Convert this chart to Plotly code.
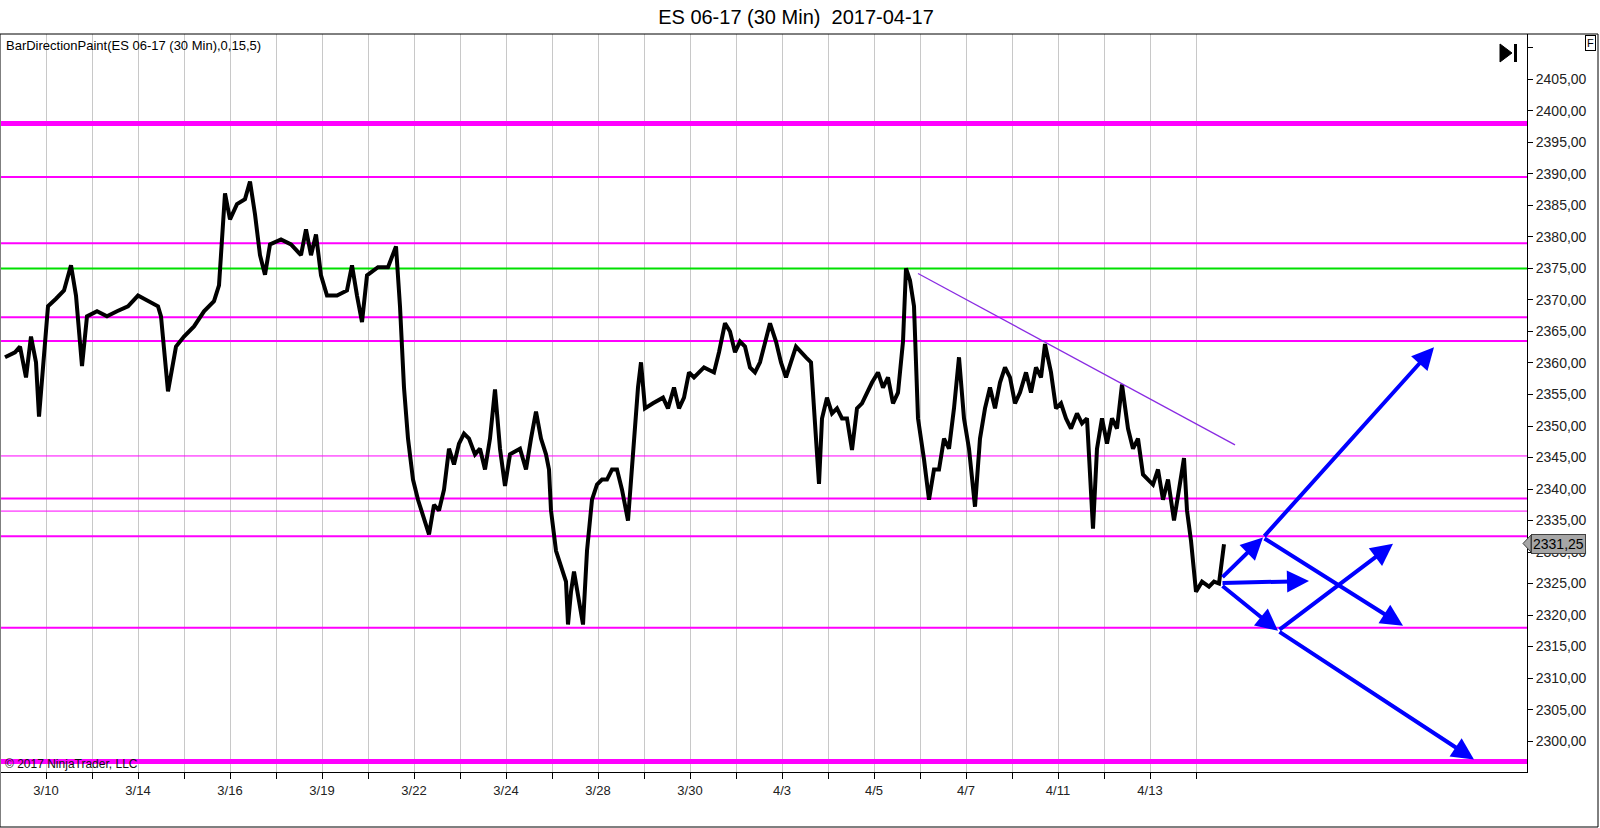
import plotly.graph_objects as go

# ---------------- data ----------------
# bar index (30-min bars, 46 bars per session; bar 0 = 3/10 session mark)
bars = [-41, -31, -26, -20, -15, -10, -7, -3, 2, 10, 18, 25, 30, 36, 41, 51, 61, 71, 82, 92,
        102, 112, 115, 122, 130, 138, 148, 158, 168, 173, 179, 184, 191, 199, 204, 209, 214, 219, 224, 235,
        245, 255, 260, 265, 270, 275, 281, 291, 301, 306, 311, 316, 321, 332, 342, 350, 354, 358, 362, 367,
        372, 378, 383, 388, 393, 398, 403, 408, 413, 418, 423, 429, 434, 439, 444, 449, 454, 459, 464, 474,
        480, 485, 490, 495, 500, 503, 505, 510, 515, 520, 522, 525, 528, 533, 537, 541, 546, 551, 556, 561, 566,
        571, 576, 582, 587, 592, 595, 599, 607, 617, 622, 628, 633, 638, 643, 648, 658, 668, 673, 679, 684,
        689, 694, 699, 704, 709, 714, 719, 724, 730, 735, 740, 745, 750, 760, 765, 770, 773, 776, 781, 786,
        791, 796, 801, 806, 811, 816, 821, 826, 832, 837, 842, 847, 852, 857, 860, 864, 868, 872, 878, 883,
        888, 893, 898, 903, 908, 913, 918, 923, 929, 934, 939, 944, 949, 954, 959, 964, 969, 974, 980, 985,
        990, 995, 999, 1005, 1010, 1015, 1020, 1025, 1031, 1036, 1041, 1044, 1047, 1051, 1056, 1061, 1066, 1071, 1076, 1082,
        1087, 1092, 1097, 1102, 1107, 1112, 1117, 1122, 1128, 1133, 1138, 1141, 1145, 1150, 1156, 1163, 1168, 1173, 1176, 1178]
prices = [2360.9, 2361.7, 2362.6, 2357.7, 2364.2, 2360.1, 2351.5, 2359.3, 2369.0, 2370.2, 2371.5, 2375.5, 2370.7, 2359.5, 2367.4, 2368.2, 2367.4, 2368.2, 2369.0, 2370.7,
          2369.8, 2369.0, 2367.4, 2355.5, 2362.6, 2364.2, 2365.8, 2368.2, 2369.8, 2372.3, 2386.9, 2382.8, 2385.2, 2386.0, 2388.8, 2383.6, 2377.1, 2374.0, 2378.8, 2379.6,
          2378.8, 2377.1, 2381.2, 2377.1, 2380.4, 2373.9, 2370.7, 2370.7, 2371.5, 2375.5, 2370.7, 2366.5, 2373.9, 2375.2, 2375.2, 2378.5, 2369.0, 2356.1, 2348.0, 2341.5,
          2338.3, 2335.0, 2332.8, 2337.5, 2336.6, 2339.9, 2346.4, 2343.9, 2347.2, 2348.8, 2348.0, 2345.5, 2346.4, 2343.1, 2348.0, 2355.8, 2346.4, 2340.5, 2345.5, 2346.4,
          2343.1, 2348.0, 2352.3, 2348.0, 2345.5, 2343.1, 2336.6, 2330.2, 2327.7, 2325.3, 2318.5, 2323.7, 2326.9, 2322.1, 2318.5, 2330.2, 2338.3, 2340.7, 2341.5, 2341.5, 2343.1,
          2343.1, 2339.9, 2335.0, 2346.4, 2356.1, 2360.1, 2352.8, 2353.6, 2354.5, 2352.8, 2356.1, 2352.8, 2354.5, 2358.5, 2357.7, 2359.3, 2358.5, 2361.7, 2366.3, 2365.0,
          2361.7, 2363.4, 2362.6, 2359.3, 2358.5, 2360.1, 2363.4, 2366.3, 2363.4, 2360.1, 2357.7, 2360.1, 2362.6, 2360.9, 2360.1, 2348.0, 2340.8, 2351.2, 2354.5, 2352.0,
          2352.8, 2351.2, 2351.2, 2346.2, 2352.8, 2353.6, 2355.3, 2356.9, 2358.5, 2356.1, 2357.7, 2353.6, 2355.3, 2363.4, 2375.0, 2373.1, 2369.0, 2351.2, 2344.7, 2338.3,
          2343.1, 2343.1, 2348.0, 2346.4, 2352.8, 2360.9, 2351.2, 2346.4, 2337.2, 2348.0, 2352.8, 2356.1, 2352.8, 2356.9, 2359.3, 2357.7, 2353.6, 2355.3, 2358.5, 2355.3,
          2359.3, 2357.7, 2363.0, 2358.5, 2352.8, 2353.6, 2351.2, 2349.6, 2352.0, 2350.4, 2351.2, 2343.1, 2333.7, 2346.4, 2351.2, 2347.2, 2351.2, 2349.6, 2356.6, 2349.6,
          2346.4, 2348.0, 2342.3, 2341.5, 2340.7, 2343.1, 2338.3, 2341.5, 2335.0, 2339.9, 2344.9, 2336.6, 2331.8, 2323.7, 2325.3, 2324.5, 2325.3, 2325.0, 2329.4, 2331.25]

last_price = 2331.25

# horizontal levels (value, kind)
magenta_levels = [2398.0, 2389.5, 2379.0, 2367.25, 2363.5, 2345.25, 2338.5, 2336.5, 2332.5, 2318.0, 2296.75]
magenta_kinds = ["thick", "normal", "normal", "normal", "normal", "thin", "normal", "thin", "normal", "normal", "thick"]
green_level = 2375.0

# trend line
trend_bars = [872, 1189]
trend_prices = [2374.2, 2347.0]

# scenario arrows: tail bar, tail price, head bar, head price
arrow_tail_bars = [1175, 1217, 1175, 1175, 1232, 1217, 1232]
arrow_tail_prices = [2325.8, 2332.3, 2325.1, 2324.8, 2317.5, 2332.3, 2317.5]
arrow_head_bars = [1217, 1388, 1263, 1232, 1347, 1357, 1428]
arrow_head_prices = [2332.3, 2362.5, 2325.4, 2317.5, 2331.3, 2318.3, 2297.1]

# axes
x_tick_bars = [46 * k for k in range(26)]
x_tick_text = ["3/10", "", "3/14", "", "3/16", "", "3/19", "", "3/22", "", "3/24", "", "3/28", "",
               "3/30", "", "4/3", "", "4/5", "", "4/7", "", "4/11", "", "4/13", ""]
y_tick_vals = [2300 + 5 * k for k in range(23)]
y_tick_text = [("%d,00" % v) if v <= 2405 else "" for v in y_tick_vals]

x_range = [-45, 1481]
y_range = [2295.1, 2412.2]

FONT = "Liberation Sans, Arial, sans-serif"

# ---------------- figure ----------------
fig = go.Figure()

widths = {"thick": 5, "normal": 2, "thin": 1}
for lvl, kind in zip(magenta_levels, magenta_kinds):
    fig.add_trace(go.Scatter(x=x_range, y=[lvl, lvl], mode="lines",
                             line=dict(color="#FF00FF", width=widths[kind]), hoverinfo="skip"))
fig.add_trace(go.Scatter(x=x_range, y=[green_level, green_level], mode="lines",
                         line=dict(color="#00E000", width=2), hoverinfo="skip"))

fig.add_trace(go.Scatter(x=bars, y=prices, mode="lines",
                         line=dict(color="black", width=4), hoverinfo="skip"))

fig.add_trace(go.Scatter(x=trend_bars, y=trend_prices, mode="lines",
                         line=dict(color="#8A2BE2", width=1.3), hoverinfo="skip"))

annotations = []
for tb, tp, hb, hp in zip(arrow_tail_bars, arrow_tail_prices, arrow_head_bars, arrow_head_prices):
    annotations.append(dict(x=hb, y=hp, ax=tb, ay=tp, xref="x", yref="y", axref="x", ayref="y",
                            text="", showarrow=True, arrowhead=2, arrowsize=1.1, arrowwidth=4,
                            arrowcolor="#0000FF", standoff=0, startstandoff=0))

# texts
annotations.append(dict(text="BarDirectionPaint(ES 06-17 (30 Min),0,15,5)", xref="paper", yref="paper",
                        x=0.002, y=(772 - 46) / 738, xanchor="left", yanchor="middle", showarrow=False,
                        font=dict(family=FONT, size=13, color="black")))
annotations.append(dict(text="© 2017 NinjaTrader, LLC", xref="paper", yref="paper",
                        x=0.001, y=(772 - 764) / 738, xanchor="left", yanchor="middle", showarrow=False,
                        font=dict(family=FONT, size=12, color="#111111")))
annotations.append(dict(text="%s" % ("%.2f" % last_price).replace(".", ","), xref="paper", yref="y",
                        x=(1531 - 1) / 1526, y=last_price, xanchor="left", yanchor="middle", showarrow=False,
                        bgcolor="#A6A6A6", bordercolor="#404040", borderwidth=1, borderpad=1,
                        font=dict(family=FONT, size=14, color="black")))
annotations.append(dict(text="F", xref="paper", yref="paper",
                        x=(1590 - 1) / 1526, y=(772 - 43.5) / 738, xanchor="center", yanchor="middle",
                        showarrow=False, bordercolor="black", borderwidth=1, borderpad=1,
                        font=dict(family=FONT, size=11, color="black")))

shapes = [
    # outer frame
    dict(type="rect", xref="paper", yref="paper", x0=-1 / 1526, x1=(1598 - 1) / 1526,
         y0=(772 - 827) / 738, y1=1, line=dict(color="black", width=1), fillcolor="rgba(0,0,0,0)"),
    # ▶| icon
    dict(type="path", xref="paper", yref="paper",
         path="M %f %f L %f %f L %f %f Z" % ((1500 - 1) / 1526, (772 - 44) / 738, (1500 - 1) / 1526,
                                           (772 - 62) / 738, (1512 - 1) / 1526, (772 - 53) / 738),
         fillcolor="black", line=dict(color="black", width=1)),
    dict(type="rect", xref="paper", yref="paper", x0=(1514 - 1) / 1526, x1=(1517 - 1) / 1526,
         y0=(772 - 62) / 738, y1=(772 - 44) / 738, fillcolor="black", line=dict(color="black", width=0)),
    # pointer of price marker
    dict(type="path", xref="paper", yref="paper",
         path="M %f %f L %f %f L %f %f Z" % ((1523 - 1) / 1526, (772 - 543.5) / 738, (1531 - 1) / 1526,
                                           (772 - 535) / 738, (1531 - 1) / 1526, (772 - 552) / 738),
         fillcolor="#A6A6A6", line=dict(color="#404040", width=1)),
]

fig.update_layout(
    width=1600, height=828, autosize=False,
    margin=dict(l=1, r=73, t=34, b=56),
    paper_bgcolor="white", plot_bgcolor="white", showlegend=False,
    title=dict(text="ES 06-17 (30 Min)\u00a0\u00a02017-04-17", x=0.4975, xanchor="center",
               y=1 - 17 / 828, yanchor="middle", yref="container",
               font=dict(family=FONT, size=20, color="black")),
    xaxis=dict(range=x_range, tickvals=x_tick_bars, ticktext=x_tick_text, showgrid=True,
               gridcolor="#C8C8C8", gridwidth=1, showline=True, linecolor="black", linewidth=1,
               ticks="outside", ticklen=6, tickcolor="black", zeroline=False,
               tickfont=dict(family=FONT, size=13, color="#222222")),
    yaxis=dict(range=y_range, side="right", tickvals=y_tick_vals, ticktext=y_tick_text,
               showgrid=False, showline=True, linecolor="black", linewidth=1, ticks="outside",
               ticklen=5, tickcolor="black", zeroline=False,
               tickfont=dict(family=FONT, size=14, color="#222222")),
    annotations=annotations, shapes=shapes,
)

fig.write_html("out.html", config={"displayModeBar": False},
               post_script="document.body.style.margin='0';document.body.style.overflow='hidden';")
